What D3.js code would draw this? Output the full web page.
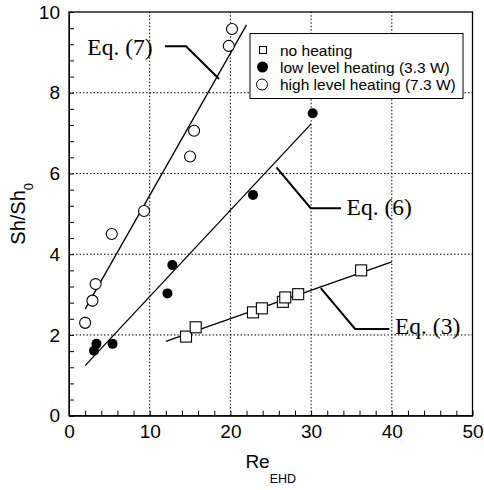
<!DOCTYPE html>
<html lang="en">
<head>
<meta charset="UTF-8">
<title>Sh/Sh0 vs Re EHD</title>
<script src="https://d3js.org/d3.v7.min.js"></script>
<style>
  body { margin: 0; background: #fff; }
  svg { display: block; font-family: "Liberation Sans", Arial, Helvetica, sans-serif; }
</style>
</head>
<body>
<div id="container"></div>
<script>
// data
const noHeatX = [14.5, 15.7, 22.8, 23.9, 26.5, 26.8, 28.4, 36.2];
const noHeatY = [1.96, 2.19, 2.56, 2.66, 2.82, 2.93, 3.01, 3.60];

const lowHeatX = [3.1, 3.4, 5.4, 12.2, 12.8, 22.8, 30.2];
const lowHeatY = [1.61, 1.78, 1.78, 3.03, 3.73, 5.47, 7.49];

const highHeatX = [2.0, 2.9, 3.3, 5.3, 9.3, 15.0, 15.5, 19.8, 20.2];
const highHeatY = [2.30, 2.85, 3.26, 4.50, 5.07, 6.42, 7.06, 9.16, 9.58];

// correlation lines, end points in data units
const eq3Line = [[12, 1.84], [40, 3.81]];
const eq6Line = [[2, 1.24], [30, 7.23]];
const eq7Line = [[2, 2.64], [22, 9.68]];

// annotation labels and their leader lines (data units)
const eqLabels = ["Eq. (7)", "Eq. (6)", "Eq. (3)"];
const eqLabelPos = [[2.27, 8.94], [34.4, 4.97], [40.4, 2.02]];
const eqLeaders = [
  [[11.9, 9.15], [14.5, 9.15], [18.6, 8.34]],
  [[25.7, 6.15], [29.95, 5.14], [33.7, 5.14]],
  [[31.2, 3.16], [35.45, 2.15], [39.7, 2.15]]
];

const legendLabels = ["no heating", "low level heating (3.3 W)", "high level heating (7.3 W)"];

const xTicks = [0, 10, 20, 30, 40, 50];
const yTicks = [0, 2, 4, 6, 8, 10];

const w = 484, h = 490;
const margin = { left: 69, top: 12, right: 11.5, bottom: 74.3 };

const svg = d3.select("#container").append("svg")
  .attr("width", w)
  .attr("height", h);

const x = d3.scaleLinear().domain([0, 50]).range([margin.left, w - margin.right]);
const y = d3.scaleLinear().domain([0, 10]).range([h - margin.bottom, margin.top]);

// dotted grid
svg.append("g").selectAll("line")
  .data(xTicks.slice(1, -1))
  .enter().append("line")
  .attr("x1", d => x(d)).attr("x2", d => x(d))
  .attr("y1", y(0)).attr("y2", y(10))
  .attr("stroke", "#000").attr("stroke-width", 1)
  .attr("stroke-dasharray", "1.5,2");

svg.append("g").selectAll("line")
  .data(yTicks.slice(1, -1))
  .enter().append("line")
  .attr("x1", x(0)).attr("x2", x(50))
  .attr("y1", d => y(d)).attr("y2", d => y(d))
  .attr("stroke", "#000").attr("stroke-width", 1)
  .attr("stroke-dasharray", "1.5,2");

// axes, minor ticks pointing inward
const xAxis = d3.axisBottom(x)
  .tickValues(d3.range(0, 50.01, 2))
  .tickSize(-5)
  .tickPadding(9)
  .tickSizeOuter(0)
  .tickFormat(d => xTicks.includes(d) ? d : "");

const yAxis = d3.axisLeft(y)
  .tickValues(d3.range(0, 10.01, 0.4).map(v => Math.round(v * 10) / 10))
  .tickSize(-5)
  .tickPadding(9)
  .tickSizeOuter(0)
  .tickFormat(d => yTicks.includes(d) ? d : "");

svg.append("g")
  .attr("transform", "translate(0," + y(0) + ")")
  .call(xAxis)
  .call(g => g.selectAll("text").style("font-size", "19px").style("font-family", "Liberation Sans, Arial, sans-serif"));

svg.append("g")
  .attr("transform", "translate(" + x(0) + ",0)")
  .call(yAxis)
  .call(g => g.selectAll("text").style("font-size", "19px").style("font-family", "Liberation Sans, Arial, sans-serif"));

// frame
svg.append("rect")
  .attr("x", x(0)).attr("y", y(10))
  .attr("width", x(50) - x(0)).attr("height", y(0) - y(10))
  .attr("fill", "none").attr("stroke", "#000").attr("stroke-width", 1.3);

// correlation lines
const line = d3.line().x(d => x(d[0])).y(d => y(d[1]));
[eq3Line, eq6Line, eq7Line].forEach(l => {
  svg.append("path").attr("d", line(l))
    .attr("fill", "none").attr("stroke", "#000").attr("stroke-width", 1.3);
});

// leaders and labels
eqLeaders.forEach(l => {
  svg.append("path").attr("d", line(l))
    .attr("fill", "none").attr("stroke", "#000").attr("stroke-width", 2);
});
svg.append("g").selectAll("text")
  .data(eqLabels)
  .enter().append("text")
  .attr("x", (d, i) => x(eqLabelPos[i][0]))
  .attr("y", (d, i) => y(eqLabelPos[i][1]))
  .style("font-family", "Liberation Serif, Times New Roman, serif")
  .style("font-size", "23.5px")
  .text(d => d);

// markers
const sq = 11;
svg.append("g").selectAll("rect")
  .data(d3.zip(noHeatX, noHeatY))
  .enter().append("rect")
  .attr("x", d => x(d[0]) - sq / 2)
  .attr("y", d => y(d[1]) - sq / 2)
  .attr("width", sq).attr("height", sq)
  .attr("fill", "#fff").attr("stroke", "#000").attr("stroke-width", 1.1);

svg.append("g").selectAll("circle")
  .data(d3.zip(lowHeatX, lowHeatY))
  .enter().append("circle")
  .attr("cx", d => x(d[0])).attr("cy", d => y(d[1]))
  .attr("r", 5)
  .attr("fill", "#000");

svg.append("g").selectAll("circle")
  .data(d3.zip(highHeatX, highHeatY))
  .enter().append("circle")
  .attr("cx", d => x(d[0])).attr("cy", d => y(d[1]))
  .attr("r", 5.5)
  .attr("fill", "#fff").attr("stroke", "#000").attr("stroke-width", 1.1);

// legend
const legend = svg.append("g").attr("transform", "translate(250,33.5)");
legend.append("rect")
  .attr("width", 213).attr("height", 65)
  .attr("fill", "#fff").attr("stroke", "#000").attr("stroke-width", 1);

const rowY = [16.5, 33.5, 51];
legend.append("rect")
  .attr("x", 9.5).attr("y", rowY[0] - 3.5)
  .attr("width", 7).attr("height", 7)
  .attr("fill", "#fff").attr("stroke", "#000").attr("stroke-width", 1);
legend.append("circle")
  .attr("cx", 12.5).attr("cy", rowY[1]).attr("r", 5.5)
  .attr("fill", "#000");
legend.append("circle")
  .attr("cx", 12).attr("cy", rowY[2]).attr("r", 5.5)
  .attr("fill", "#fff").attr("stroke", "#000").attr("stroke-width", 1);

legend.selectAll("text.lab")
  .data(legendLabels)
  .enter().append("text")
  .attr("class", "lab")
  .attr("x", 30)
  .attr("y", (d, i) => rowY[i] + 5.5)
  .style("font-size", "15.5px")
  .text(d => d);

// axis titles
const xt = svg.append("text")
  .attr("x", (x(0) + x(50)) / 2)
  .attr("y", 468)
  .attr("text-anchor", "middle")
  .style("font-size", "19px");
xt.append("tspan").text("Re");
xt.append("tspan").attr("dy", 15).style("font-size", "12.5px").text("EHD");

const yt = svg.append("text")
  .attr("transform", "translate(25," + (y(5) + 0) + ") rotate(-90)")
  .attr("text-anchor", "middle")
  .style("font-size", "20px");
yt.append("tspan").text("Sh/Sh");
yt.append("tspan").attr("dy", 8).style("font-size", "13px").text("0");
</script>
</body>
</html>
